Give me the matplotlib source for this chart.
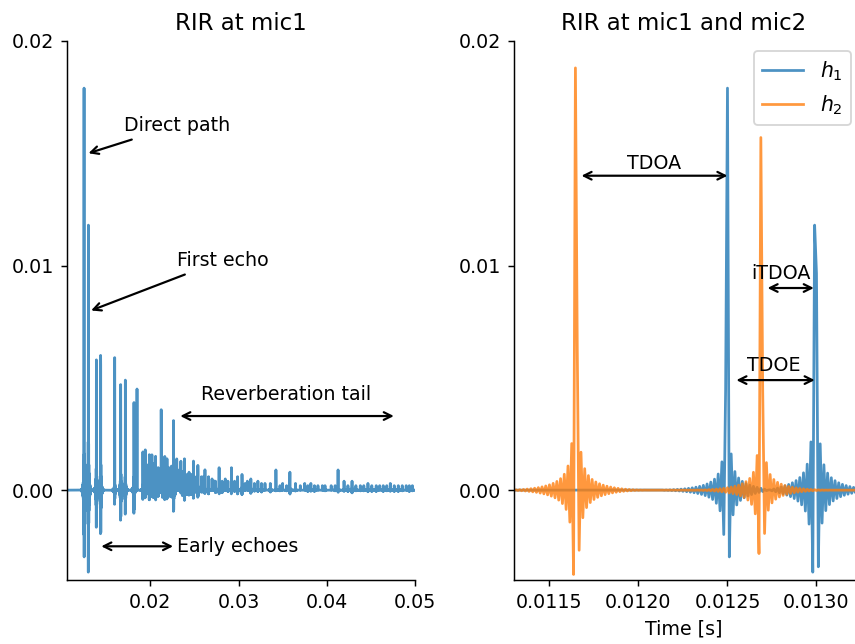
import numpy as np
import matplotlib
matplotlib.use('Agg')
import matplotlib.pyplot as plt
from matplotlib.ticker import FormatStrFormatter

plt.rcParams['font.size'] = 10.4

# sampling rate of the impulse responses
fs = 96000

# reflections seen at mic1 (arrival time [s], peak height)
h1_times = [0.01249792, 0.01299427, 0.01390, 0.01438, 0.01597, 0.01665, 0.01718,
            0.01816, 0.01850, 0.01917, 0.01944, 0.01980, 0.01990, 0.02019,
            0.02035, 0.02060, 0.02090, 0.02124, 0.02140, 0.02165, 0.02190,
            0.02215, 0.02240, 0.02264, 0.02282, 0.02300, 0.02325, 0.02347,
            0.02365, 0.02388, 0.02415, 0.02440, 0.02465, 0.02490, 0.02520,
            0.02540, 0.02580, 0.02605, 0.02620, 0.02660, 0.02700, 0.02725,
            0.02740, 0.02780, 0.02815, 0.02850, 0.02880, 0.02920, 0.02955,
            0.02990, 0.03040, 0.03075, 0.03100, 0.03140, 0.03180, 0.03220,
            0.03260, 0.03300, 0.03360, 0.03424, 0.03470, 0.03500, 0.03545,
            0.03582, 0.03646, 0.03700, 0.03750, 0.03785, 0.03820, 0.03860,
            0.03900, 0.03950, 0.03980, 0.04050, 0.04095, 0.04128, 0.04196,
            0.04240, 0.04286, 0.04330, 0.04380, 0.04420, 0.04467, 0.04510,
            0.04560, 0.04600, 0.04640, 0.04680, 0.04720, 0.04765, 0.04810,
            0.04855, 0.04900, 0.04935, 0.04970]
h1_peaks = [0.0179, 0.0118, 0.0058, 0.0060, 0.0059, 0.0047, 0.0049,
            0.0039, 0.0045, 0.0017, 0.0018, 0.0012, 0.0016, 0.0016,
            0.0012, 0.0015, 0.0010, 0.0036, 0.0011, 0.0015, 0.0014,
            0.0010, 0.0011, 0.0031, 0.0010, 0.0014, 0.0009, 0.0013,
            0.0008, 0.0014, 0.0007, 0.0008, 0.0007, 0.0013, 0.0006,
            0.0011, 0.0006, 0.0006, 0.0009, 0.0006, 0.0005, 0.0004,
            0.0004, 0.0010, 0.0004, 0.0005, 0.0004, 0.0010, 0.0004,
            0.0006, 0.0007, 0.0003, 0.0004, 0.0005, 0.0003, 0.0004,
            0.0003, 0.0003, 0.0003, 0.0009, 0.0002, 0.0003, 0.0002,
            0.0008, 0.0003, 0.0002, 0.0003, 0.0002, 0.0003, 0.0002,
            0.0002, 0.0002, 0.0002, 0.0002, 0.0002, 0.0009, 0.0004,
            0.0002, 0.0004, 0.0002, 0.0002, 0.0002, 0.0003, 0.0002,
            0.0002, 0.0002, 0.0002, 0.0002, 0.0003, 0.0002, 0.0002,
            0.0002, 0.0002, 0.0002, 0.0002]

# reflections seen at mic2 (only the two in the zoomed window)
h2_times = [0.01164844, 0.01268979]
h2_peaks = [0.0188, 0.0157]


def rir(times, peaks, n_samples, half=40):
    # fractional-delay Hann-windowed sinc for every reflection
    n = np.arange(n_samples)
    h = np.zeros(n_samples)
    for tk, p in zip(times, peaks):
        x = n - tk * fs
        m = np.abs(x) <= half
        k = np.sinc(x[m]) * 0.5 * (1 + np.cos(np.pi * x[m] / half))
        h[m] += p * k / np.abs(k).max()
    return h


N = int(0.052 * fs)
t = np.arange(N) / fs
h1 = rir(h1_times, h1_peaks, N)
h2 = rir(h2_times, h2_peaks, N)

fig = plt.figure(figsize=(855 / 132, 644 / 132), dpi=132)
ax1 = fig.add_axes([0.0784, 0.0994, 0.407, 0.837])
ax2 = fig.add_axes([0.601, 0.0994, 0.406, 0.837])

arrow = dict(arrowstyle='->', lw=1.2, shrinkA=2, shrinkB=0)
both = dict(arrowstyle='<->', lw=1.2, shrinkA=0, shrinkB=0)

# left: full RIR at mic1
ax1.plot(t, h1, color='tab:blue', alpha=0.8)
ax1.set_xlim(0.01057, 0.05)
ax1.set_ylim(-0.004, 0.02)
ax1.set_xticks([0.02, 0.03, 0.04, 0.05])
ax1.set_yticks([0.0, 0.01, 0.02])
ax1.set_title('RIR at mic1')

ax1.annotate('Direct path', xy=(0.0130, 0.0150), xytext=(0.0170, 0.0160),
             arrowprops=arrow)
ax1.annotate('First echo', xy=(0.0133, 0.0080), xytext=(0.0230, 0.0100),
             arrowprops=arrow)
ax1.annotate('', xy=(0.0234, 0.0033), xytext=(0.0476, 0.0033), arrowprops=both)
ax1.text(0.0354, 0.0040, 'Reverberation tail', ha='center')
ax1.annotate('Early echoes', xy=(0.01445, -0.0025), xytext=(0.0230, -0.0025),
             va='center', arrowprops=both)

# right: zoom on the first arrivals at both mics
ax2.plot(t, h1, color='tab:blue', alpha=0.8, label='$h_1$')
ax2.plot(t, h2, color='tab:orange', alpha=0.8, label='$h_2$')
ax2.set_xlim(0.0113, 0.01325)
ax2.set_ylim(-0.004, 0.02)
ax2.set_xticks([0.0115, 0.0120, 0.0125, 0.0130])
ax2.set_xticklabels(['0.0115', '0.0120', '0.0125', '0.0130'])
ax2.set_yticks([0.0, 0.01, 0.02])
ax2.set_title('RIR at mic1 and mic2', x=0.49)
ax2.set_xlabel('Time [s]', x=0.49)
ax2.legend(loc='upper right', fontsize=11.2)

ax2.annotate('', xy=(0.01168, 0.0140), xytext=(0.01250, 0.0140), arrowprops=both)
ax2.text(0.01209, 0.0143, 'TDOA', ha='center')
ax2.annotate('', xy=(0.012725, 0.0090), xytext=(0.012985, 0.0090), arrowprops=both)
ax2.text(0.01280, 0.0094, 'iTDOA', ha='center')
ax2.annotate('', xy=(0.01255, 0.0049), xytext=(0.01299, 0.0049), arrowprops=both)
ax2.text(0.01276, 0.0053, 'TDOE', ha='center')

for ax in (ax1, ax2):
    ax.spines['top'].set_visible(False)
    ax.spines['right'].set_visible(False)
    ax.yaxis.set_major_formatter(FormatStrFormatter('%.2f'))
ax1.xaxis.set_major_formatter(FormatStrFormatter('%.2f'))

fig.savefig('out.png', dpi=132)
